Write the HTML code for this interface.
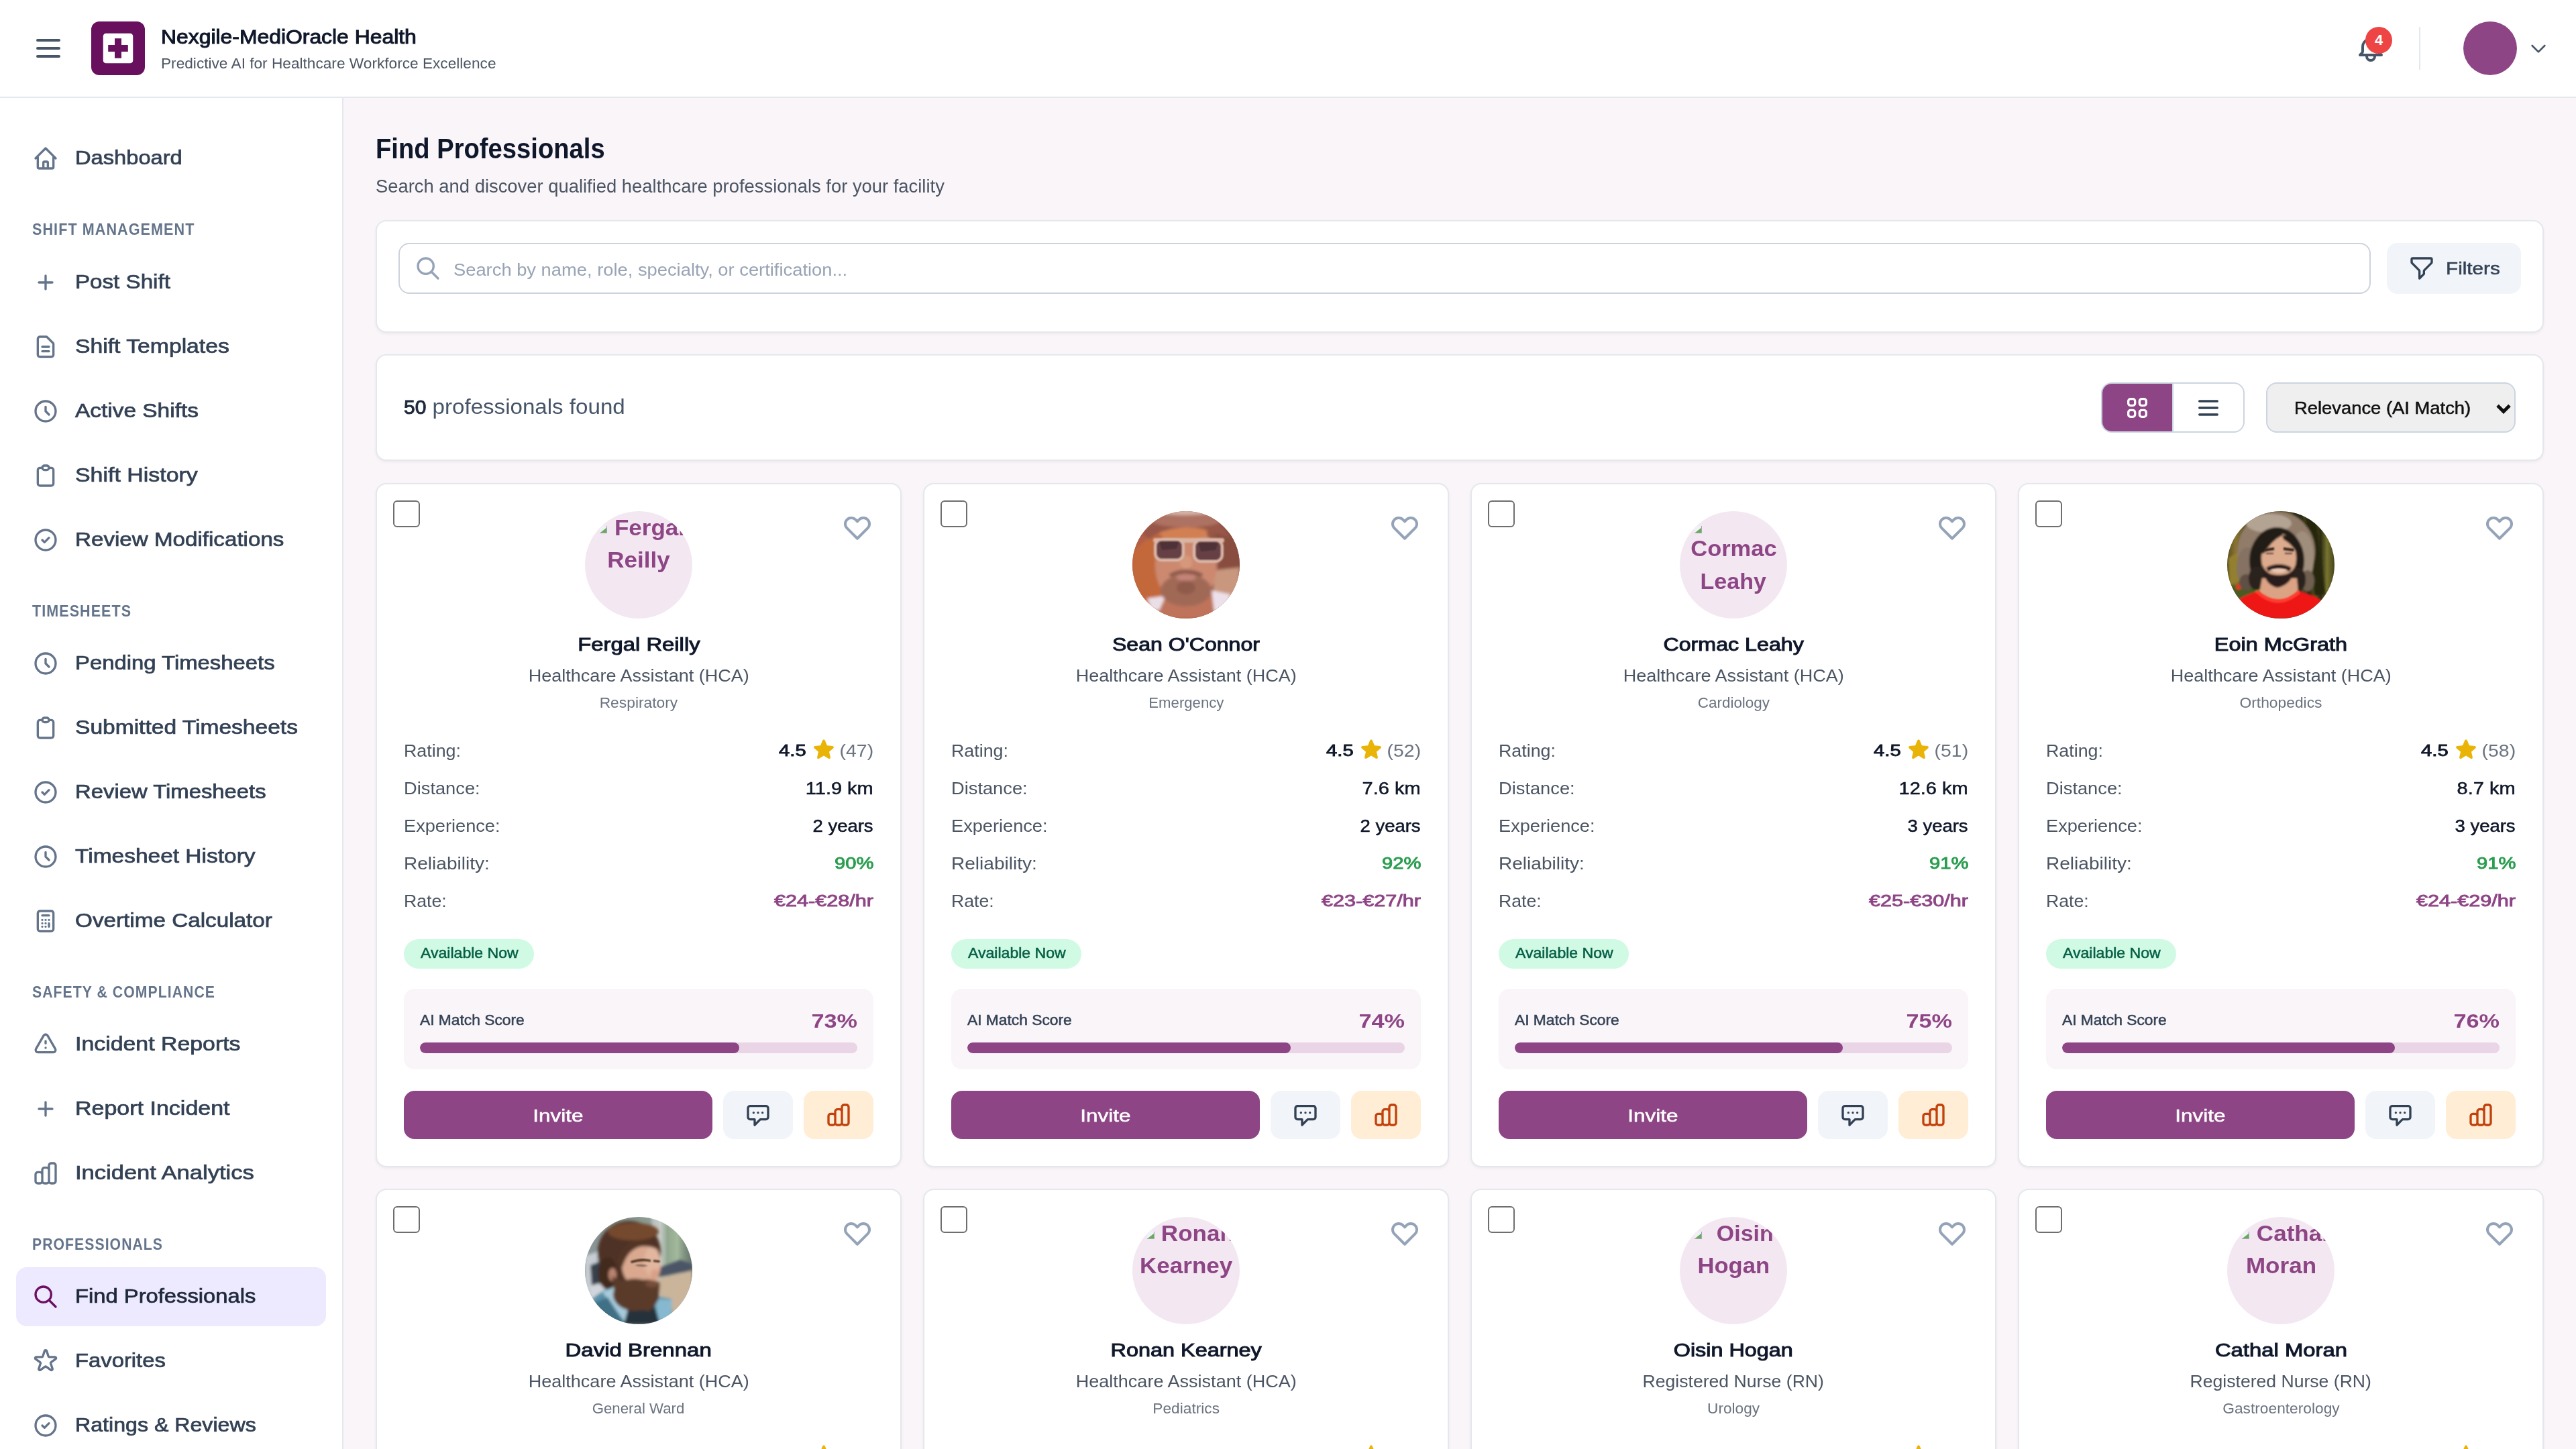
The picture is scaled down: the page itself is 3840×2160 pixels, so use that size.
<!DOCTYPE html>
<html lang="en"><head><meta charset="utf-8"><title>Find Professionals</title>
<style>
*{box-sizing:border-box;margin:0;padding:0}
html,body{width:3840px;height:2160px;overflow:hidden;background:#f9f5f9}
body{font-family:"Liberation Sans",sans-serif;color:#0f172a;-webkit-font-smoothing:antialiased}
#app{position:relative;width:3840px;height:2160px;overflow:hidden;background:#f9f5f9}
svg.ic{display:block;flex:none}
header{position:absolute;left:0;top:0;width:3840px;height:146px;background:#fff;border-bottom:2px solid #e4e7ec}
.logo{position:absolute;left:136px;top:32px;width:80px;height:80px;border-radius:12px;background:#680f5e}
.brand{position:absolute;left:240px;top:33px;font-size:28.6px;line-height:44px;font-weight:400;-webkit-text-stroke:1px currentColor;color:#0f172a;white-space:nowrap}
.tag{position:absolute;left:240px;top:78.7px;font-size:22.3px;line-height:32px;color:#4b5563;white-space:nowrap}
.nb{position:absolute;left:3526px;top:40px;width:40px;height:40px;border-radius:50%;background:#ef4444;color:#fff;font-size:22px;font-weight:700;line-height:40px;text-align:center}
.vdiv{position:absolute;left:3606px;top:40px;width:2px;height:64px;background:#e4e7ec}
.uav{position:absolute;left:3672px;top:32px;width:80px;height:80px;border-radius:50%;background:#8e4585}
aside{position:absolute;left:0;top:146px;width:512px;height:2014px;background:#fff;border-right:2px solid #e4e7ec}
aside .ni{position:absolute;left:24px;width:462px;height:88px;border-radius:16px;display:flex;align-items:center;padding-left:24px;margin-top:-144.5px;font-size:28.8px;color:#334155;white-space:nowrap}
aside .ni .lb{margin-left:24px;-webkit-text-stroke:0.7px currentColor}
aside .ni.act{background:#ede9fe;color:#1e293b}
aside .nh{position:absolute;left:48px;margin-top:-146px;font-size:24px;line-height:32px;font-weight:700;letter-spacing:1.2px;color:#64748b;white-space:nowrap}
h1{position:absolute;left:560px;top:188.5px;font-size:43px;line-height:64px;font-weight:700;color:#0f172a;white-space:nowrap}
.sub{position:absolute;left:560px;top:257.5px;font-size:27.3px;line-height:40px;color:#4b5563;white-space:nowrap}
.panel{position:absolute;background:#fff;border:2px solid #e4e7ec;border-radius:16px;box-shadow:0 2px 4px rgba(0,0,0,.05)}
.inp{position:absolute;left:32px;top:32px;width:2940px;height:76px;border:2px solid #cdd3dc;border-radius:16px;background:#fff}
.inp>span{position:absolute;left:80px;top:17.5px;font-size:26.5px;line-height:40px;color:#98a3b5;white-space:nowrap}
.fbtn{position:absolute;left:2996px;top:32px;width:200px;height:76px;border-radius:16px;background:#f1f5f9;display:flex;align-items:center;padding-left:32px;font-size:25.8px;color:#334155}
.fbtn>span{margin-left:16px;padding-top:1px;-webkit-text-stroke:0.5px currentColor}
.found{position:absolute;left:40px;top:52px;font-size:32px;line-height:48px;color:#475569;white-space:nowrap}
.found b{color:#1e293b;font-weight:400;-webkit-text-stroke:1px currentColor;font-size:29px}
.tog{position:absolute;left:2570px;top:40px;width:214px;height:75px;border:2px solid #cbd5e1;border-radius:16px;overflow:hidden;display:flex;background:#fff}
.tog div{width:104px;height:71px;display:flex;align-items:center;justify-content:center}
.tog .t1{background:#8e4585}
.tog .t2{border-left:2px solid #cbd5e1;width:106px}
.sel{position:absolute;left:2816px;top:40px;width:372px;height:75px;border:2px solid #cbd5e1;border-radius:16px;background:#efefef;font-size:25.9px;color:#111;white-space:nowrap}
.sel>span{position:absolute;left:40px;top:16px;line-height:40px;-webkit-text-stroke:0.5px currentColor}
.sel svg{position:absolute;right:4px;top:29px}
.card{position:absolute;width:784px;height:1020px;background:#fff;border:2px solid #e4e7ec;border-radius:16px;box-shadow:0 2px 4px rgba(0,0,0,.05)}
.cb{position:absolute;left:24px;top:24px;width:40px;height:40px;border:2px solid #6e6e6e;border-radius:6px;background:#fff}
.av{position:absolute;left:310px;top:40px;width:160px;height:160px;border-radius:50%;overflow:hidden}
.av.alt{background:#f3e8f2}
.altbox{position:absolute;left:0;top:1px;width:160px;height:160px;color:#8e4585;font-size:33px;font-weight:700;text-align:center;line-height:48px}
.altbox .broken{position:absolute;left:21.5px;top:21px}
.altbox .a1{position:absolute;left:36px;width:122px;top:0;white-space:nowrap;text-align:center}
.altbox .a1.w{left:0;width:160px;top:30.5px}
.altbox .a2.w{top:79.5px}
.altbox .a2{position:absolute;left:0;width:160px;top:48px;white-space:nowrap;text-align:center}
.nm{position:absolute;left:0;width:780px;top:215px;text-align:center;font-size:26.8px;line-height:48px;font-weight:400;-webkit-text-stroke:0.95px currentColor;color:#0f172a}
.rl{position:absolute;left:0;width:780px;top:265px;text-align:center;font-size:26.5px;line-height:40px;color:#4b5563}
.sp{position:absolute;left:0;width:780px;top:310px;text-align:center;font-size:21.5px;line-height:32px;color:#6b7280}
.row{position:absolute;left:40px;width:700px;height:40px;font-size:26.5px;line-height:40px}
.row .l{position:absolute;left:0;color:#4b5563}
.row .v{position:absolute;right:0;white-space:nowrap;color:#0f172a}
.row .v.m{-webkit-text-stroke:0.5px currentColor;font-size:25.2px}
.row .v.g{color:#2a9d4f;font-weight:400;-webkit-text-stroke:0.9px currentColor;font-size:24.2px}
.row .v.p{color:#8e4585;font-weight:400;-webkit-text-stroke:0.9px currentColor;font-size:24.2px}
.row .v.rt{display:flex;align-items:center}
.row .v.rt b{font-weight:700}
.row .v.rt i{font-style:normal;color:#64748b}
.row .v.rt .st{margin:0 8px 0 8px}
.badge{position:absolute;left:40px;top:678px;height:44px;width:194px;padding:0 0 0 25px;border-radius:22px;background:#d1fae5;color:#065f46;font-size:21.2px;line-height:42px;white-space:nowrap;-webkit-text-stroke:0.5px currentColor}
.ai{position:absolute;left:40px;top:752px;width:700px;height:120px;border-radius:16px;background:#f9f5f9}
.ail{position:absolute;left:24px;top:31px;font-size:21.2px;line-height:32px;color:#334155;-webkit-text-stroke:0.5px currentColor}
.aiv{position:absolute;right:24px;top:24px;font-size:29px;line-height:48px;font-weight:700;color:#8e4585}
.bar{position:absolute;left:24px;top:80px;width:652px;height:16px;border-radius:8px;background:#e9d5e6;overflow:hidden}
.bar div{height:16px;border-radius:8px;background:#8e4585}
.btn{position:absolute;top:904px;height:72px;border-radius:16px;display:flex;align-items:center;justify-content:center}
.btn.inv{left:40px;width:460px;background:#8e4585;color:#fff;font-size:25.8px;padding-top:2px;-webkit-text-stroke:0.5px currentColor}
.btn.msg{left:516px;width:104px;background:#f1f5f9}
.btn.cht{left:636px;width:104px;background:#ffedd5}

.fx{display:inline-block;white-space:nowrap}
.row .v.r1{right:100px;font-weight:400;-webkit-text-stroke:0.9px currentColor;font-size:24.2px}
.row .v.r2{right:0;color:#6b7280}
.row .st{position:absolute;right:56px;top:0px}

</style></head>
<body>
<div id="app">
<main></main>
<header>
<svg class="ic" width="48" height="48" viewBox="0 0 24 24" fill="none" stroke="#475569" stroke-width="2" stroke-linecap="round" stroke-linejoin="round" style="position:absolute;left:48px;top:48px"><path d="M4 6h16M4 12h16M4 18h16"/></svg>
<div class="logo"><svg width="80" height="80" viewBox="0 0 80 80"><path fill="#fff" fill-rule="evenodd" d="M22 17.750h36a4.250 4.250 0 0 1 4.250 4.250v36a4.250 4.250 0 0 1-4.250 4.250h-36a4.250 4.250 0 0 1-4.250-4.250v-36a4.250 4.250 0 0 1 4.250-4.250zM35 25.200v9.800h-9.800v10h9.800v9.800h10v-9.800h9.800v-10h-9.800v-9.800z"/></svg></div>
<div class="brand"><span class="fx" style="transform:scaleX(1.1146);transform-origin:left center">Nexgile-MediOracle Health</span></div>
<div class="tag"><span class="fx" style="transform:scaleX(1.0161);transform-origin:left center">Predictive AI for Healthcare Workforce Excellence</span></div>
<svg class="ic" width="48" height="48" viewBox="0 0 24 24" fill="none" stroke="#475569" stroke-width="2" stroke-linecap="round" stroke-linejoin="round" style="position:absolute;left:3510px;top:48px"><path d="M15 17h5l-1.405-1.405A2.032 2.032 0 0118 14.158V11a6.002 6.002 0 00-4-5.659V5a2 2 0 10-4 0v.341C7.67 6.165 6 8.388 6 11v3.159c0 .538-.214 1.055-.595 1.436L4 17h5m6 0v1a3 3 0 11-6 0v-1m6 0H9"/></svg>
<div class="nb">4</div>
<div class="vdiv"></div>
<div class="uav"></div>
<svg class="ic" width="32" height="32" viewBox="0 0 24 24" fill="none" stroke="#475569" stroke-width="2" stroke-linecap="round" stroke-linejoin="round" style="position:absolute;left:3768px;top:56px"><path d="M19 9l-7 7-7-7"/></svg>
</header>
<aside>
<div class="ni" style="top:190px"><svg class="ic" width="40" height="40" viewBox="0 0 24 24" fill="none" stroke="#64748b" stroke-width="2" stroke-linecap="round" stroke-linejoin="round" style=""><path d="M3 12l2-2m0 0l7-7 7 7M5 10v10a1 1 0 001 1h3m10-11l2 2m-2-2v10a1 1 0 01-1 1h-3m-6 0a1 1 0 001-1v-4a1 1 0 011-1h2a1 1 0 011 1v4a1 1 0 001 1m-6 0h6"/></svg><span class="lb"><span class="fx" style="transform:scaleX(1.1338);transform-origin:left center">Dashboard</span></span></div>
<div class="nh" style="top:326px"><span class="fx" style="transform:scaleX(0.8984);transform-origin:left center">SHIFT MANAGEMENT</span></div>
<div class="ni" style="top:375px"><svg class="ic" width="40" height="40" viewBox="0 0 24 24" fill="none" stroke="#64748b" stroke-width="2" stroke-linecap="round" stroke-linejoin="round" style=""><path d="M12 6v6m0 0v6m0-6h6m-6 0H6"/></svg><span class="lb"><span class="fx" style="transform:scaleX(1.1509);transform-origin:left center">Post Shift</span></span></div>
<div class="ni" style="top:471px"><svg class="ic" width="40" height="40" viewBox="0 0 24 24" fill="none" stroke="#64748b" stroke-width="2" stroke-linecap="round" stroke-linejoin="round" style=""><path d="M9 12h6m-6 4h6m2 5H7a2 2 0 01-2-2V5a2 2 0 012-2h5.586a1 1 0 01.707.293l5.414 5.414a1 1 0 01.293.707V19a2 2 0 01-2 2z"/></svg><span class="lb"><span class="fx" style="transform:scaleX(1.1705);transform-origin:left center">Shift Templates</span></span></div>
<div class="ni" style="top:567px"><svg class="ic" width="40" height="40" viewBox="0 0 24 24" fill="none" stroke="#64748b" stroke-width="2" stroke-linecap="round" stroke-linejoin="round" style=""><path d="M12 8v4l3 3m6-3a9 9 0 11-18 0 9 9 0 0118 0z"/></svg><span class="lb"><span class="fx" style="transform:scaleX(1.1609);transform-origin:left center">Active Shifts</span></span></div>
<div class="ni" style="top:663px"><svg class="ic" width="40" height="40" viewBox="0 0 24 24" fill="none" stroke="#64748b" stroke-width="2" stroke-linecap="round" stroke-linejoin="round" style=""><path d="M9 5H7a2 2 0 00-2 2v12a2 2 0 002 2h10a2 2 0 002-2V7a2 2 0 00-2-2h-2M9 5a2 2 0 002 2h2a2 2 0 002-2M9 5a2 2 0 012-2h2a2 2 0 012 2"/></svg><span class="lb"><span class="fx" style="transform:scaleX(1.1779);transform-origin:left center">Shift History</span></span></div>
<div class="ni" style="top:759px"><svg class="ic" width="40" height="40" viewBox="0 0 24 24" fill="none" stroke="#64748b" stroke-width="2" stroke-linecap="round" stroke-linejoin="round" style=""><path d="M9 12l2 2 4-4m6 2a9 9 0 11-18 0 9 9 0 0118 0z"/></svg><span class="lb"><span class="fx" style="transform:scaleX(1.1514);transform-origin:left center">Review Modifications</span></span></div>
<div class="nh" style="top:895px"><span class="fx" style="transform:scaleX(0.8959);transform-origin:left center">TIMESHEETS</span></div>
<div class="ni" style="top:943px"><svg class="ic" width="40" height="40" viewBox="0 0 24 24" fill="none" stroke="#64748b" stroke-width="2" stroke-linecap="round" stroke-linejoin="round" style=""><path d="M12 8v4l3 3m6-3a9 9 0 11-18 0 9 9 0 0118 0z"/></svg><span class="lb"><span class="fx" style="transform:scaleX(1.1407);transform-origin:left center">Pending Timesheets</span></span></div>
<div class="ni" style="top:1039px"><svg class="ic" width="40" height="40" viewBox="0 0 24 24" fill="none" stroke="#64748b" stroke-width="2" stroke-linecap="round" stroke-linejoin="round" style=""><path d="M9 5H7a2 2 0 00-2 2v12a2 2 0 002 2h10a2 2 0 002-2V7a2 2 0 00-2-2h-2M9 5a2 2 0 002 2h2a2 2 0 002-2M9 5a2 2 0 012-2h2a2 2 0 012 2"/></svg><span class="lb"><span class="fx" style="transform:scaleX(1.1651);transform-origin:left center">Submitted Timesheets</span></span></div>
<div class="ni" style="top:1135px"><svg class="ic" width="40" height="40" viewBox="0 0 24 24" fill="none" stroke="#64748b" stroke-width="2" stroke-linecap="round" stroke-linejoin="round" style=""><path d="M9 12l2 2 4-4m6 2a9 9 0 11-18 0 9 9 0 0118 0z"/></svg><span class="lb"><span class="fx" style="transform:scaleX(1.1401);transform-origin:left center">Review Timesheets</span></span></div>
<div class="ni" style="top:1231px"><svg class="ic" width="40" height="40" viewBox="0 0 24 24" fill="none" stroke="#64748b" stroke-width="2" stroke-linecap="round" stroke-linejoin="round" style=""><path d="M12 8v4l3 3m6-3a9 9 0 11-18 0 9 9 0 0118 0z"/></svg><span class="lb"><span class="fx" style="transform:scaleX(1.1627);transform-origin:left center">Timesheet History</span></span></div>
<div class="ni" style="top:1327px"><svg class="ic" width="40" height="40" viewBox="0 0 24 24" fill="none" stroke="#64748b" stroke-width="2" stroke-linecap="round" stroke-linejoin="round" style=""><path d="M9 7h6m0 10v-3m-3 3h.01M9 17h.01M9 14h.01M12 14h.01M15 11h.01M12 11h.01M9 11h.01M7 21h10a2 2 0 002-2V5a2 2 0 00-2-2H7a2 2 0 00-2 2v14a2 2 0 002 2z"/></svg><span class="lb"><span class="fx" style="transform:scaleX(1.1552);transform-origin:left center">Overtime Calculator</span></span></div>
<div class="nh" style="top:1463px"><span class="fx" style="transform:scaleX(0.8832);transform-origin:left center">SAFETY &amp; COMPLIANCE</span></div>
<div class="ni" style="top:1511px"><svg class="ic" width="40" height="40" viewBox="0 0 24 24" fill="none" stroke="#64748b" stroke-width="2" stroke-linecap="round" stroke-linejoin="round" style=""><path d="M12 9v2m0 4h.01m-6.938 4h13.856c1.54 0 2.502-1.667 1.732-3L13.732 4c-.77-1.333-2.694-1.333-3.464 0L3.34 16c-.77 1.333.192 3 1.732 3z"/></svg><span class="lb"><span class="fx" style="transform:scaleX(1.1757);transform-origin:left center">Incident Reports</span></span></div>
<div class="ni" style="top:1607px"><svg class="ic" width="40" height="40" viewBox="0 0 24 24" fill="none" stroke="#64748b" stroke-width="2" stroke-linecap="round" stroke-linejoin="round" style=""><path d="M12 6v6m0 0v6m0-6h6m-6 0H6"/></svg><span class="lb"><span class="fx" style="transform:scaleX(1.1805);transform-origin:left center">Report Incident</span></span></div>
<div class="ni" style="top:1703px"><svg class="ic" width="40" height="40" viewBox="0 0 24 24" fill="none" stroke="#64748b" stroke-width="2" stroke-linecap="round" stroke-linejoin="round" style=""><path d="M9 19v-6a2 2 0 00-2-2H5a2 2 0 00-2 2v6a2 2 0 002 2h2a2 2 0 002-2zm0 0V9a2 2 0 012-2h2a2 2 0 012 2v10m-6 0a2 2 0 002 2h2a2 2 0 002-2m0 0V5a2 2 0 012-2h2a2 2 0 012 2v14a2 2 0 01-2 2h-2a2 2 0 01-2-2z"/></svg><span class="lb"><span class="fx" style="transform:scaleX(1.1988);transform-origin:left center">Incident Analytics</span></span></div>
<div class="nh" style="top:1839px"><span class="fx" style="transform:scaleX(0.8827);transform-origin:left center">PROFESSIONALS</span></div>
<div class="ni act" style="top:1887px"><svg class="ic" width="40" height="40" viewBox="0 0 24 24" fill="none" stroke="#6b0f62" stroke-width="2" stroke-linecap="round" stroke-linejoin="round" style=""><path d="M21 21l-6-6m2-5a7 7 0 11-14 0 7 7 0 0114 0z"/></svg><span class="lb"><span class="fx" style="transform:scaleX(1.1370);transform-origin:left center">Find Professionals</span></span></div>
<div class="ni" style="top:1983px"><svg class="ic" width="40" height="40" viewBox="0 0 24 24" fill="none" stroke="#64748b" stroke-width="2" stroke-linecap="round" stroke-linejoin="round" style=""><path d="M11.049 2.927c.3-.921 1.603-.921 1.902 0l1.519 4.674a1 1 0 00.95.69h4.915c.969 0 1.371 1.24.588 1.81l-3.976 2.888a1 1 0 00-.363 1.118l1.518 4.674c.3.922-.755 1.688-1.538 1.118l-3.976-2.888a1 1 0 00-1.176 0l-3.976 2.888c-.783.57-1.838-.197-1.538-1.118l1.518-4.674a1 1 0 00-.363-1.118l-3.976-2.888c-.784-.57-.38-1.81.588-1.81h4.914a1 1 0 00.951-.69l1.519-4.674z"/></svg><span class="lb"><span class="fx" style="transform:scaleX(1.1387);transform-origin:left center">Favorites</span></span></div>
<div class="ni" style="top:2079px"><svg class="ic" width="40" height="40" viewBox="0 0 24 24" fill="none" stroke="#64748b" stroke-width="2" stroke-linecap="round" stroke-linejoin="round" style=""><path d="M9 12l2 2 4-4m6 2a9 9 0 11-18 0 9 9 0 0118 0z"/></svg><span class="lb"><span class="fx" style="transform:scaleX(1.1162);transform-origin:left center">Ratings &amp; Reviews</span></span></div>
</aside>
<h1><span class="fx" style="transform:scaleX(0.8881);transform-origin:left center">Find Professionals</span></h1>
<p class="sub"><span class="fx" style="transform:scaleX(1.0032);transform-origin:left center">Search and discover qualified healthcare professionals for your facility</span></p>
<div class="panel" style="left:560px;top:328px;width:3232px;height:168px">
 <div class="inp"><svg class="ic" width="40" height="40" viewBox="0 0 24 24" fill="none" stroke="#94a3b8" stroke-width="2" stroke-linecap="round" stroke-linejoin="round" style="position:absolute;left:22px;top:16px"><path d="M21 21l-6-6m2-5a7 7 0 11-14 0 7 7 0 0114 0z"/></svg><span><span class="fx" style="transform:scaleX(1.0311);transform-origin:left center">Search by name, role, specialty, or certification...</span></span></div>
 <div class="fbtn"><svg class="ic" width="40" height="40" viewBox="0 0 24 24" fill="none" stroke="#334155" stroke-width="2" stroke-linecap="round" stroke-linejoin="round" style=""><path d="M3 4a1 1 0 011-1h16a1 1 0 011 1v2.586a1 1 0 01-.293.707l-6.414 6.414a1 1 0 00-.293.707V17l-4 4v-6.586a1 1 0 00-.293-.707L3.293 7.293A1 1 0 013 6.586V4z"/></svg><span><span class="fx" style="transform:scaleX(1.1503);transform-origin:left center">Filters</span></span></div>
</div>
<div class="panel" style="left:560px;top:528px;width:3232px;height:159px">
 <div class="found"><span class="fx" style="transform:scaleX(1.0347);transform-origin:left center"><b>50</b> professionals found</span></div>
 <div class="tog"><div class="t1"><svg class="ic" width="40" height="40" viewBox="0 0 24 24" fill="none" stroke="#ffffff" stroke-width="2" stroke-linecap="round" stroke-linejoin="round" style=""><path d="M4 6a2 2 0 012-2h2a2 2 0 012 2v2a2 2 0 01-2 2H6a2 2 0 01-2-2V6zM14 6a2 2 0 012-2h2a2 2 0 012 2v2a2 2 0 01-2 2h-2a2 2 0 01-2-2V6zM4 16a2 2 0 012-2h2a2 2 0 012 2v2a2 2 0 01-2 2H6a2 2 0 01-2-2v-2zM14 16a2 2 0 012-2h2a2 2 0 012 2v2a2 2 0 01-2 2h-2a2 2 0 01-2-2v-2z"/></svg></div><div class="t2"><svg class="ic" width="40" height="40" viewBox="0 0 24 24" fill="none" stroke="#334155" stroke-width="2" stroke-linecap="round" stroke-linejoin="round" style=""><path d="M4 6h16M4 12h16M4 18h16"/></svg></div></div>
 <div class="sel"><span><span class="fx" style="transform:scaleX(1.0573);transform-origin:left center">Relevance (AI Match)</span></span><svg width="24" height="16" viewBox="0 0 24 16"><path d="M3 3.500 L12 12.500 L21 3.500" fill="none" stroke="#111" stroke-width="5" stroke-linecap="butt" stroke-linejoin="miter"/></svg></div>
</div>
<div class="card" style="left:560px;top:720px">
<div class="cb"></div>
<svg class="ic" width="48" height="48" viewBox="0 0 24 24" fill="none" stroke="#94a3b8" stroke-width="2" stroke-linecap="round" stroke-linejoin="round" style="position:absolute;right:40px;top:40px"><path d="M4.318 6.318a4.5 4.5 0 000 6.364L12 20.364l7.682-7.682a4.5 4.5 0 00-6.364-6.364L12 7.636l-1.318-1.318a4.5 4.5 0 00-6.364 0z"/></svg>
<div class="av alt"><div class="altbox"><svg class="broken" width="11" height="11" viewBox="0 0 12 12"><rect width="12" height="12" fill="#eef2f7"/><path d="M1 11 L11 11 L11 3 Z" fill="#6aa85a"/><path d="M0 11.400 L11.400 11.400 L11.400 0" fill="none" stroke="#a3a8af" stroke-width="1.200"/></svg><span class="a1"><span class="fx" style="transform:scaleX(1.0620);transform-origin:center center">Fergal</span></span><span class="a2"><span class="fx" style="transform:scaleX(1.0620);transform-origin:center center">Reilly</span></span></div></div>
<div class="nm"><span class="fx" style="transform:scaleX(1.2240);transform-origin:center center">Fergal Reilly</span></div>
<div class="rl"><span class="fx" style="transform:scaleX(1.0208);transform-origin:center center">Healthcare Assistant (HCA)</span></div>
<div class="sp"><span class="fx" style="transform:scaleX(1.0609);transform-origin:center center">Respiratory</span></div>
<div class="row" style="top:377px"><span class="l"><span class="fx" style="transform:scaleX(1.0117);transform-origin:left center">Rating:</span></span><span class="v r1"><span class="fx" style="transform:scaleX(1.2062);transform-origin:right center">4.5</span></span><svg class="st" width="36" height="36" viewBox="0 0 24 24" fill="#eab308"><path d="M10.788 3.21c.448-1.077 1.976-1.077 2.424 0l2.082 5.007 5.404.433c1.164.093 1.636 1.545.749 2.305l-4.117 3.527 1.257 5.273c.271 1.136-.964 2.033-1.96 1.425L12 18.354 7.373 21.18c-.996.608-2.231-.29-1.96-1.425l1.257-5.273-4.117-3.527c-.887-.76-.415-2.212.749-2.305l5.404-.433 2.082-5.007z"/></svg><span class="v r2"><span class="fx" style="transform:scaleX(1.0724);transform-origin:right center">(47)</span></span></div>
<div class="row" style="top:433px"><span class="l"><span class="fx" style="transform:scaleX(1.0288);transform-origin:left center">Distance:</span></span><span class="v m"><span class="fx" style="transform:scaleX(1.1505);transform-origin:right center">11.9 km</span></span></div>
<div class="row" style="top:489px"><span class="l"><span class="fx" style="transform:scaleX(1.0257);transform-origin:left center">Experience:</span></span><span class="v m"><span class="fx" style="transform:scaleX(1.0912);transform-origin:right center">2 years</span></span></div>
<div class="row" style="top:545px"><span class="l"><span class="fx" style="transform:scaleX(1.0587);transform-origin:left center">Reliability:</span></span><span class="v g"><span class="fx" style="transform:scaleX(1.2072);transform-origin:right center">90%</span></span></div>
<div class="row" style="top:601px"><span class="l"><span class="fx" style="transform:scaleX(1.0065);transform-origin:left center">Rate:</span></span><span class="v p"><span class="fx" style="transform:scaleX(1.2654);transform-origin:right center">€24-€28/hr</span></span></div>
<div class="badge"><span class="fx" style="transform:scaleX(1.0883);transform-origin:left center">Available Now</span></div>
<div class="ai"><span class="ail"><span class="fx" style="transform:scaleX(1.0750);transform-origin:left center">AI Match Score</span></span><span class="aiv"><span class="fx" style="transform:scaleX(1.1829);transform-origin:right center">73%</span></span><div class="bar"><div style="width:73%"></div></div></div>
<div class="btn inv"><span class="fx" style="transform:scaleX(1.2192);transform-origin:center center">Invite</span></div>
<div class="btn msg"><svg class="ic" width="40" height="40" viewBox="0 0 24 24" fill="none" stroke="#334155" stroke-width="2" stroke-linecap="round" stroke-linejoin="round" style=""><path d="M8 10h.01M12 10h.01M16 10h.01M9 16H5a2 2 0 01-2-2V6a2 2 0 012-2h14a2 2 0 012 2v8a2 2 0 01-2 2h-5l-5 5v-5z"/></svg></div>
<div class="btn cht"><svg class="ic" width="40" height="40" viewBox="0 0 24 24" fill="none" stroke="#c2410c" stroke-width="2" stroke-linecap="round" stroke-linejoin="round" style=""><path d="M9 19v-6a2 2 0 00-2-2H5a2 2 0 00-2 2v6a2 2 0 002 2h2a2 2 0 002-2zm0 0V9a2 2 0 012-2h2a2 2 0 012 2v10m-6 0a2 2 0 002 2h2a2 2 0 002-2m0 0V5a2 2 0 012-2h2a2 2 0 012 2v14a2 2 0 01-2 2h-2a2 2 0 01-2-2z"/></svg></div>
</div>
<div class="card" style="left:1376px;top:720px">
<div class="cb"></div>
<svg class="ic" width="48" height="48" viewBox="0 0 24 24" fill="none" stroke="#94a3b8" stroke-width="2" stroke-linecap="round" stroke-linejoin="round" style="position:absolute;right:40px;top:40px"><path d="M4.318 6.318a4.5 4.5 0 000 6.364L12 20.364l7.682-7.682a4.5 4.5 0 00-6.364-6.364L12 7.636l-1.318-1.318a4.5 4.5 0 00-6.364 0z"/></svg>
<div class="av ph"><svg width="160" height="160" viewBox="0 0 160 160"><defs><filter id="bs" x="-10%" y="-10%" width="120%" height="120%"><feGaussianBlur stdDeviation="2.2"/></filter><filter id="bs2" x="-10%" y="-10%" width="120%" height="120%"><feGaussianBlur stdDeviation="1.1"/></filter><linearGradient id="sbg" x1="0" x2="1" y1="0" y2="0"><stop offset="0" stop-color="#b4572d"/><stop offset=".3" stop-color="#b85c30"/><stop offset=".75" stop-color="#8a4a38"/><stop offset="1" stop-color="#7b4234"/></linearGradient></defs>
<rect width="160" height="160" fill="url(#sbg)"/>
<g filter="url(#bs)">
<path d="M0 40 L34 36 L44 126 L20 140 L0 150Z" fill="#bd5f2e"/>
<path d="M0 0 L40 0 L24 40 L0 60Z" fill="#a9553a"/>
<path d="M124 30 L160 30 L160 92 L128 88Z" fill="#7a4033"/>
<path d="M122 88 L160 84 L160 136 L120 130Z" fill="#c4947a"/>
<path d="M36 128 L118 122 L130 160 L30 160Z" fill="#b96c52"/>
<path d="M22 130 L50 126 L40 148 L28 146Z" fill="#ebe6f2"/>
<path d="M118 118 L146 124 L140 146 L122 150Z" fill="#ece9f5"/>
<ellipse cx="80" cy="80" rx="46" ry="60" fill="#c8856a"/>
<ellipse cx="76" cy="32" rx="36" ry="12" fill="#cf7a48"/>
<ellipse cx="80" cy="118" rx="38" ry="24" fill="#96604e"/>
<ellipse cx="80" cy="114" rx="14" ry="10" fill="#83503f"/>
<ellipse cx="80" cy="99" rx="15" ry="4.500" fill="#c07f74"/>
<path d="M54 94 Q80 80 106 94 L102 98 Q80 88 58 98Z" fill="#7b4a3c"/>
<ellipse cx="80" cy="76" rx="9" ry="10" fill="#d39679"/>
<path d="M14 34 Q30 8 80 4 Q130 6 146 40 L128 34 Q80 14 36 34 L26 42Z" fill="#8c4c3e"/>
<ellipse cx="80" cy="10" rx="58" ry="14" fill="#a66b5c"/>
<ellipse cx="78" cy="1" rx="40" ry="5" fill="#d2b2a8"/>
</g>
<g filter="url(#bs2)">
<rect x="31" y="40" width="106" height="7" rx="3" fill="#d6b6a6"/>
<rect x="34" y="42" width="42" height="31" rx="10" fill="#55313a" stroke="#d9baaa" stroke-width="4"/>
<rect x="92" y="43" width="42" height="32" rx="10" fill="#55313a" stroke="#d9baaa" stroke-width="4"/>
<path d="M40 46 L70 45 L66 56 L44 58Z" fill="#38212a"/>
<path d="M98 47 L128 47 L124 58 L102 60Z" fill="#38212a"/>
</g>
<rect width="160" height="160" fill="#f0b0a0" opacity=".12"/>
</svg>
</div>
<div class="nm"><span class="fx" style="transform:scaleX(1.1962);transform-origin:center center">Sean O'Connor</span></div>
<div class="rl"><span class="fx" style="transform:scaleX(1.0208);transform-origin:center center">Healthcare Assistant (HCA)</span></div>
<div class="sp"><span class="fx" style="transform:scaleX(1.0311);transform-origin:center center">Emergency</span></div>
<div class="row" style="top:377px"><span class="l"><span class="fx" style="transform:scaleX(1.0117);transform-origin:left center">Rating:</span></span><span class="v r1"><span class="fx" style="transform:scaleX(1.2062);transform-origin:right center">4.5</span></span><svg class="st" width="36" height="36" viewBox="0 0 24 24" fill="#eab308"><path d="M10.788 3.21c.448-1.077 1.976-1.077 2.424 0l2.082 5.007 5.404.433c1.164.093 1.636 1.545.749 2.305l-4.117 3.527 1.257 5.273c.271 1.136-.964 2.033-1.96 1.425L12 18.354 7.373 21.18c-.996.608-2.231-.29-1.96-1.425l1.257-5.273-4.117-3.527c-.887-.76-.415-2.212.749-2.305l5.404-.433 2.082-5.007z"/></svg><span class="v r2"><span class="fx" style="transform:scaleX(1.0724);transform-origin:right center">(52)</span></span></div>
<div class="row" style="top:433px"><span class="l"><span class="fx" style="transform:scaleX(1.0288);transform-origin:left center">Distance:</span></span><span class="v m"><span class="fx" style="transform:scaleX(1.1505);transform-origin:right center">7.6 km</span></span></div>
<div class="row" style="top:489px"><span class="l"><span class="fx" style="transform:scaleX(1.0257);transform-origin:left center">Experience:</span></span><span class="v m"><span class="fx" style="transform:scaleX(1.0912);transform-origin:right center">2 years</span></span></div>
<div class="row" style="top:545px"><span class="l"><span class="fx" style="transform:scaleX(1.0587);transform-origin:left center">Reliability:</span></span><span class="v g"><span class="fx" style="transform:scaleX(1.2072);transform-origin:right center">92%</span></span></div>
<div class="row" style="top:601px"><span class="l"><span class="fx" style="transform:scaleX(1.0065);transform-origin:left center">Rate:</span></span><span class="v p"><span class="fx" style="transform:scaleX(1.2654);transform-origin:right center">€23-€27/hr</span></span></div>
<div class="badge"><span class="fx" style="transform:scaleX(1.0883);transform-origin:left center">Available Now</span></div>
<div class="ai"><span class="ail"><span class="fx" style="transform:scaleX(1.0750);transform-origin:left center">AI Match Score</span></span><span class="aiv"><span class="fx" style="transform:scaleX(1.1829);transform-origin:right center">74%</span></span><div class="bar"><div style="width:74%"></div></div></div>
<div class="btn inv"><span class="fx" style="transform:scaleX(1.2192);transform-origin:center center">Invite</span></div>
<div class="btn msg"><svg class="ic" width="40" height="40" viewBox="0 0 24 24" fill="none" stroke="#334155" stroke-width="2" stroke-linecap="round" stroke-linejoin="round" style=""><path d="M8 10h.01M12 10h.01M16 10h.01M9 16H5a2 2 0 01-2-2V6a2 2 0 012-2h14a2 2 0 012 2v8a2 2 0 01-2 2h-5l-5 5v-5z"/></svg></div>
<div class="btn cht"><svg class="ic" width="40" height="40" viewBox="0 0 24 24" fill="none" stroke="#c2410c" stroke-width="2" stroke-linecap="round" stroke-linejoin="round" style=""><path d="M9 19v-6a2 2 0 00-2-2H5a2 2 0 00-2 2v6a2 2 0 002 2h2a2 2 0 002-2zm0 0V9a2 2 0 012-2h2a2 2 0 012 2v10m-6 0a2 2 0 002 2h2a2 2 0 002-2m0 0V5a2 2 0 012-2h2a2 2 0 012 2v14a2 2 0 01-2 2h-2a2 2 0 01-2-2z"/></svg></div>
</div>
<div class="card" style="left:2192px;top:720px">
<div class="cb"></div>
<svg class="ic" width="48" height="48" viewBox="0 0 24 24" fill="none" stroke="#94a3b8" stroke-width="2" stroke-linecap="round" stroke-linejoin="round" style="position:absolute;right:40px;top:40px"><path d="M4.318 6.318a4.5 4.5 0 000 6.364L12 20.364l7.682-7.682a4.5 4.5 0 00-6.364-6.364L12 7.636l-1.318-1.318a4.5 4.5 0 00-6.364 0z"/></svg>
<div class="av alt"><div class="altbox"><svg class="broken" width="11" height="11" viewBox="0 0 12 12"><rect width="12" height="12" fill="#eef2f7"/><path d="M1 11 L11 11 L11 3 Z" fill="#6aa85a"/><path d="M0 11.400 L11.400 11.400 L11.400 0" fill="none" stroke="#a3a8af" stroke-width="1.200"/></svg><span class="a1 w"><span class="fx" style="transform:scaleX(1.0449);transform-origin:center center">Cormac</span></span><span class="a2 w"><span class="fx" style="transform:scaleX(1.0307);transform-origin:center center">Leahy</span></span></div></div>
<div class="nm"><span class="fx" style="transform:scaleX(1.2015);transform-origin:center center">Cormac Leahy</span></div>
<div class="rl"><span class="fx" style="transform:scaleX(1.0208);transform-origin:center center">Healthcare Assistant (HCA)</span></div>
<div class="sp"><span class="fx" style="transform:scaleX(1.0452);transform-origin:center center">Cardiology</span></div>
<div class="row" style="top:377px"><span class="l"><span class="fx" style="transform:scaleX(1.0117);transform-origin:left center">Rating:</span></span><span class="v r1"><span class="fx" style="transform:scaleX(1.2062);transform-origin:right center">4.5</span></span><svg class="st" width="36" height="36" viewBox="0 0 24 24" fill="#eab308"><path d="M10.788 3.21c.448-1.077 1.976-1.077 2.424 0l2.082 5.007 5.404.433c1.164.093 1.636 1.545.749 2.305l-4.117 3.527 1.257 5.273c.271 1.136-.964 2.033-1.96 1.425L12 18.354 7.373 21.18c-.996.608-2.231-.29-1.96-1.425l1.257-5.273-4.117-3.527c-.887-.76-.415-2.212.749-2.305l5.404-.433 2.082-5.007z"/></svg><span class="v r2"><span class="fx" style="transform:scaleX(1.0724);transform-origin:right center">(51)</span></span></div>
<div class="row" style="top:433px"><span class="l"><span class="fx" style="transform:scaleX(1.0288);transform-origin:left center">Distance:</span></span><span class="v m"><span class="fx" style="transform:scaleX(1.1505);transform-origin:right center">12.6 km</span></span></div>
<div class="row" style="top:489px"><span class="l"><span class="fx" style="transform:scaleX(1.0257);transform-origin:left center">Experience:</span></span><span class="v m"><span class="fx" style="transform:scaleX(1.0912);transform-origin:right center">3 years</span></span></div>
<div class="row" style="top:545px"><span class="l"><span class="fx" style="transform:scaleX(1.0587);transform-origin:left center">Reliability:</span></span><span class="v g"><span class="fx" style="transform:scaleX(1.2072);transform-origin:right center">91%</span></span></div>
<div class="row" style="top:601px"><span class="l"><span class="fx" style="transform:scaleX(1.0065);transform-origin:left center">Rate:</span></span><span class="v p"><span class="fx" style="transform:scaleX(1.2654);transform-origin:right center">€25-€30/hr</span></span></div>
<div class="badge"><span class="fx" style="transform:scaleX(1.0883);transform-origin:left center">Available Now</span></div>
<div class="ai"><span class="ail"><span class="fx" style="transform:scaleX(1.0750);transform-origin:left center">AI Match Score</span></span><span class="aiv"><span class="fx" style="transform:scaleX(1.1829);transform-origin:right center">75%</span></span><div class="bar"><div style="width:75%"></div></div></div>
<div class="btn inv"><span class="fx" style="transform:scaleX(1.2192);transform-origin:center center">Invite</span></div>
<div class="btn msg"><svg class="ic" width="40" height="40" viewBox="0 0 24 24" fill="none" stroke="#334155" stroke-width="2" stroke-linecap="round" stroke-linejoin="round" style=""><path d="M8 10h.01M12 10h.01M16 10h.01M9 16H5a2 2 0 01-2-2V6a2 2 0 012-2h14a2 2 0 012 2v8a2 2 0 01-2 2h-5l-5 5v-5z"/></svg></div>
<div class="btn cht"><svg class="ic" width="40" height="40" viewBox="0 0 24 24" fill="none" stroke="#c2410c" stroke-width="2" stroke-linecap="round" stroke-linejoin="round" style=""><path d="M9 19v-6a2 2 0 00-2-2H5a2 2 0 00-2 2v6a2 2 0 002 2h2a2 2 0 002-2zm0 0V9a2 2 0 012-2h2a2 2 0 012 2v10m-6 0a2 2 0 002 2h2a2 2 0 002-2m0 0V5a2 2 0 012-2h2a2 2 0 012 2v14a2 2 0 01-2 2h-2a2 2 0 01-2-2z"/></svg></div>
</div>
<div class="card" style="left:3008px;top:720px">
<div class="cb"></div>
<svg class="ic" width="48" height="48" viewBox="0 0 24 24" fill="none" stroke="#94a3b8" stroke-width="2" stroke-linecap="round" stroke-linejoin="round" style="position:absolute;right:40px;top:40px"><path d="M4.318 6.318a4.5 4.5 0 000 6.364L12 20.364l7.682-7.682a4.5 4.5 0 00-6.364-6.364L12 7.636l-1.318-1.318a4.5 4.5 0 00-6.364 0z"/></svg>
<div class="av ph"><svg width="160" height="160" viewBox="0 0 160 160"><defs><filter id="be" x="-10%" y="-10%" width="120%" height="120%"><feGaussianBlur stdDeviation="1.8"/></filter><filter id="be2" x="-10%" y="-10%" width="120%" height="120%"><feGaussianBlur stdDeviation="0.9"/></filter><linearGradient id="ebg" x1="0" x2="1" y1="0" y2="0"><stop offset="0" stop-color="#5a4e22"/><stop offset=".08" stop-color="#8a7430"/><stop offset=".16" stop-color="#5e5424"/><stop offset=".24" stop-color="#7d6e2c"/><stop offset=".32" stop-color="#4e4a20"/><stop offset=".7" stop-color="#4e4a22"/><stop offset=".76" stop-color="#23230f"/><stop offset=".82" stop-color="#5c5a26"/><stop offset=".87" stop-color="#2a2a12"/><stop offset=".93" stop-color="#77742f"/><stop offset="1" stop-color="#45441c"/></linearGradient></defs>
<rect width="160" height="160" fill="url(#ebg)"/>
<g filter="url(#be)">
<path d="M2 70 L24 56 L30 100 L4 110Z" fill="#93802f"/>
<path d="M38 94 L62 90 L60 122 L36 124Z" fill="#a3a231"/>
<path d="M0 112 L40 106 L44 130 L0 136Z" fill="#4a5a20"/>
<circle cx="17" cy="113" r="4" fill="#e8351a"/>
<path d="M118 0 L132 0 L146 124 L130 126Z" fill="#26260f"/>
<path d="M96 0 L112 0 L118 30 L104 30Z" fill="#2b2a14"/>
<ellipse cx="73" cy="60" rx="58" ry="60" fill="#917c69"/>
<ellipse cx="62" cy="18" rx="34" ry="14" fill="#b3a392"/>
<ellipse cx="112" cy="70" rx="17" ry="40" fill="#a08e7c"/>
<ellipse cx="30" cy="84" rx="16" ry="30" fill="#857262"/>
<ellipse cx="120" cy="104" rx="10" ry="16" fill="#6f5e50"/>
<ellipse cx="28" cy="106" rx="10" ry="12" fill="#5f4f44"/>
<ellipse cx="74" cy="74" rx="41" ry="50" fill="#231a18"/>
<ellipse cx="44" cy="100" rx="12" ry="18" fill="#2b201c"/>
<ellipse cx="106" cy="102" rx="11" ry="18" fill="#2b201c"/>
<path d="M16 132 Q46 114 76 118 Q108 114 140 132 L160 160 L0 160Z" fill="#ef1515"/>
<path d="M52 100 L104 100 L106 122 Q78 142 48 122Z" fill="#dba384"/>
<ellipse cx="77" cy="70" rx="26" ry="37" fill="#dcaa8c"/>
<path d="M50 64 Q54 32 78 30 Q84 30 82 36 Q66 44 56 62Z" fill="#231a18"/>
<path d="M82 36 Q100 34 106 66 Q98 50 84 42Z" fill="#231a18"/>
<path d="M53 80 Q54 110 75 114 Q98 110 102 80 Q96 96 77 95 Q58 96 53 80Z" fill="#2a1e1c"/>
<path d="M58 84 Q77 74 96 84 L93 90 Q77 82 61 90Z" fill="#2a1e1c"/>
</g>
<g filter="url(#be2)">
<path d="M64 87 Q77 84 90 87 Q78 96 64 87Z" fill="#e6c6b6"/>
<path d="M55 56 L70 54 L70 58 L56 60Z" fill="#33241f"/>
<path d="M84 54 L100 56 L99 60 L84 58Z" fill="#33241f"/>
<path d="M58 62 L69 62 L69 64 L58 64Z" fill="#6b4a3c"/>
<path d="M86 62 L97 62 L97 64 L86 64Z" fill="#6b4a3c"/>
<path d="M46 118 Q76 146 106 118 L109 122 Q76 152 43 122Z" fill="#ff3b2f"/>
</g>
</svg>
</div>
<div class="nm"><span class="fx" style="transform:scaleX(1.2103);transform-origin:center center">Eoin McGrath</span></div>
<div class="rl"><span class="fx" style="transform:scaleX(1.0208);transform-origin:center center">Healthcare Assistant (HCA)</span></div>
<div class="sp"><span class="fx" style="transform:scaleX(1.0609);transform-origin:center center">Orthopedics</span></div>
<div class="row" style="top:377px"><span class="l"><span class="fx" style="transform:scaleX(1.0117);transform-origin:left center">Rating:</span></span><span class="v r1"><span class="fx" style="transform:scaleX(1.2062);transform-origin:right center">4.5</span></span><svg class="st" width="36" height="36" viewBox="0 0 24 24" fill="#eab308"><path d="M10.788 3.21c.448-1.077 1.976-1.077 2.424 0l2.082 5.007 5.404.433c1.164.093 1.636 1.545.749 2.305l-4.117 3.527 1.257 5.273c.271 1.136-.964 2.033-1.96 1.425L12 18.354 7.373 21.18c-.996.608-2.231-.29-1.96-1.425l1.257-5.273-4.117-3.527c-.887-.76-.415-2.212.749-2.305l5.404-.433 2.082-5.007z"/></svg><span class="v r2"><span class="fx" style="transform:scaleX(1.0724);transform-origin:right center">(58)</span></span></div>
<div class="row" style="top:433px"><span class="l"><span class="fx" style="transform:scaleX(1.0288);transform-origin:left center">Distance:</span></span><span class="v m"><span class="fx" style="transform:scaleX(1.1505);transform-origin:right center">8.7 km</span></span></div>
<div class="row" style="top:489px"><span class="l"><span class="fx" style="transform:scaleX(1.0257);transform-origin:left center">Experience:</span></span><span class="v m"><span class="fx" style="transform:scaleX(1.0912);transform-origin:right center">3 years</span></span></div>
<div class="row" style="top:545px"><span class="l"><span class="fx" style="transform:scaleX(1.0587);transform-origin:left center">Reliability:</span></span><span class="v g"><span class="fx" style="transform:scaleX(1.2072);transform-origin:right center">91%</span></span></div>
<div class="row" style="top:601px"><span class="l"><span class="fx" style="transform:scaleX(1.0065);transform-origin:left center">Rate:</span></span><span class="v p"><span class="fx" style="transform:scaleX(1.2654);transform-origin:right center">€24-€29/hr</span></span></div>
<div class="badge"><span class="fx" style="transform:scaleX(1.0883);transform-origin:left center">Available Now</span></div>
<div class="ai"><span class="ail"><span class="fx" style="transform:scaleX(1.0750);transform-origin:left center">AI Match Score</span></span><span class="aiv"><span class="fx" style="transform:scaleX(1.1829);transform-origin:right center">76%</span></span><div class="bar"><div style="width:76%"></div></div></div>
<div class="btn inv"><span class="fx" style="transform:scaleX(1.2192);transform-origin:center center">Invite</span></div>
<div class="btn msg"><svg class="ic" width="40" height="40" viewBox="0 0 24 24" fill="none" stroke="#334155" stroke-width="2" stroke-linecap="round" stroke-linejoin="round" style=""><path d="M8 10h.01M12 10h.01M16 10h.01M9 16H5a2 2 0 01-2-2V6a2 2 0 012-2h14a2 2 0 012 2v8a2 2 0 01-2 2h-5l-5 5v-5z"/></svg></div>
<div class="btn cht"><svg class="ic" width="40" height="40" viewBox="0 0 24 24" fill="none" stroke="#c2410c" stroke-width="2" stroke-linecap="round" stroke-linejoin="round" style=""><path d="M9 19v-6a2 2 0 00-2-2H5a2 2 0 00-2 2v6a2 2 0 002 2h2a2 2 0 002-2zm0 0V9a2 2 0 012-2h2a2 2 0 012 2v10m-6 0a2 2 0 002 2h2a2 2 0 002-2m0 0V5a2 2 0 012-2h2a2 2 0 012 2v14a2 2 0 01-2 2h-2a2 2 0 01-2-2z"/></svg></div>
</div>
<div class="card" style="left:560px;top:1772px">
<div class="cb"></div>
<svg class="ic" width="48" height="48" viewBox="0 0 24 24" fill="none" stroke="#94a3b8" stroke-width="2" stroke-linecap="round" stroke-linejoin="round" style="position:absolute;right:40px;top:40px"><path d="M4.318 6.318a4.5 4.5 0 000 6.364L12 20.364l7.682-7.682a4.5 4.5 0 00-6.364-6.364L12 7.636l-1.318-1.318a4.5 4.5 0 00-6.364 0z"/></svg>
<div class="av ph"><svg width="160" height="160" viewBox="0 0 160 160"><defs><filter id="bd" x="-10%" y="-10%" width="120%" height="120%"><feGaussianBlur stdDeviation="2"/></filter><filter id="bd2" x="-10%" y="-10%" width="120%" height="120%"><feGaussianBlur stdDeviation="1"/></filter><linearGradient id="dbg" x1="0" x2="1" y1="0" y2="0"><stop offset="0" stop-color="#8d979a"/><stop offset=".3" stop-color="#7f8e88"/><stop offset=".6" stop-color="#8d9d93"/><stop offset=".64" stop-color="#b9c1bd"/><stop offset=".7" stop-color="#c6cdc9"/><stop offset=".77" stop-color="#92a78f"/><stop offset=".86" stop-color="#a3b99c"/><stop offset=".93" stop-color="#7e917f"/><stop offset="1" stop-color="#65746e"/></linearGradient></defs>
<rect width="160" height="160" fill="url(#dbg)"/>
<g filter="url(#bd)">
<path d="M0 58 L18 52 L22 124 L0 130Z" fill="#c8cdd4"/>
<path d="M8 72 L24 66 L24 98 L10 102Z" fill="#37414c"/>
<path d="M8 104 L40 96 L40 120 L10 128Z" fill="#d2d6dc"/>
<path d="M110 76 L142 64 L160 70 L160 80 L110 90Z" fill="#4c5466"/>
<path d="M108 92 L160 80 L160 152 L118 152Z" fill="#cab59b"/>
<path d="M10 122 L36 104 L70 112 L128 122 L132 160 L30 160Z" fill="#5990a8"/>
<path d="M26 112 L44 104 L84 160 L62 160Z" fill="#a7cbdc"/>
<path d="M40 116 L52 110 L92 160 L82 160Z" fill="#c9b2ae"/>
<path d="M104 122 L130 124 L128 150 L110 156Z" fill="#86b9d0"/>
<path d="M64 138 L104 134 L112 160 L58 160Z" fill="#28313b"/>
<path d="M14 128 L34 120 L60 160 L30 160Z" fill="#3f6f86"/>
<ellipse cx="66" cy="52" rx="47" ry="46" fill="#4f3325"/>
<ellipse cx="72" cy="22" rx="38" ry="13" fill="#74492f"/>
<ellipse cx="34" cy="84" rx="14" ry="24" fill="#422a1f"/>
<ellipse cx="84" cy="72" rx="29" ry="34" fill="#d9a88f"/>
<ellipse cx="100" cy="66" rx="12" ry="22" fill="#e2b69f"/>
<path d="M48 70 Q52 40 76 36 Q100 32 114 52 Q100 42 84 44 Q64 48 56 74Z" fill="#533526"/>
<ellipse cx="41" cy="86" rx="6" ry="10" fill="#b98570"/>
<path d="M40 88 Q52 98 70 96 Q96 90 112 98 L110 122 Q100 142 92 140 Q60 136 44 112Z" fill="#5a3a29"/>
<ellipse cx="74" cy="116" rx="32" ry="24" fill="#5a3a29"/>
<ellipse cx="100" cy="100" rx="10" ry="5" fill="#77503a"/>
<ellipse cx="104" cy="86" rx="6" ry="8" fill="#d9a088"/>
</g>
<g filter="url(#bd2)">
<path d="M68 66 Q84 60 98 64 L98 67 Q84 64 69 69Z" fill="#4a3024"/>
<path d="M102 64 L112 65 L111 68 L102 67Z" fill="#4a3024"/>
<path d="M74 72 Q84 69 94 73 Q84 76 74 72Z" fill="#8a6a5c"/>
</g>
</svg>
</div>
<div class="nm"><span class="fx" style="transform:scaleX(1.2313);transform-origin:center center">David Brennan</span></div>
<div class="rl"><span class="fx" style="transform:scaleX(1.0208);transform-origin:center center">Healthcare Assistant (HCA)</span></div>
<div class="sp"><span class="fx" style="transform:scaleX(1.0346);transform-origin:center center">General Ward</span></div>
<div class="row" style="top:377px"><span class="l"><span class="fx" style="transform:scaleX(1.0117);transform-origin:left center">Rating:</span></span><span class="v r1"><span class="fx" style="transform:scaleX(1.2062);transform-origin:right center">4.5</span></span><svg class="st" width="36" height="36" viewBox="0 0 24 24" fill="#eab308"><path d="M10.788 3.21c.448-1.077 1.976-1.077 2.424 0l2.082 5.007 5.404.433c1.164.093 1.636 1.545.749 2.305l-4.117 3.527 1.257 5.273c.271 1.136-.964 2.033-1.96 1.425L12 18.354 7.373 21.18c-.996.608-2.231-.29-1.96-1.425l1.257-5.273-4.117-3.527c-.887-.76-.415-2.212.749-2.305l5.404-.433 2.082-5.007z"/></svg><span class="v r2"><span class="fx" style="transform:scaleX(1.0724);transform-origin:right center">(50)</span></span></div>
<div class="row" style="top:433px"><span class="l"><span class="fx" style="transform:scaleX(1.0288);transform-origin:left center">Distance:</span></span><span class="v m"><span class="fx" style="transform:scaleX(1.1505);transform-origin:right center">9.1 km</span></span></div>
<div class="row" style="top:489px"><span class="l"><span class="fx" style="transform:scaleX(1.0257);transform-origin:left center">Experience:</span></span><span class="v m"><span class="fx" style="transform:scaleX(1.0912);transform-origin:right center">3 years</span></span></div>
<div class="row" style="top:545px"><span class="l"><span class="fx" style="transform:scaleX(1.0587);transform-origin:left center">Reliability:</span></span><span class="v g"><span class="fx" style="transform:scaleX(1.2072);transform-origin:right center">92%</span></span></div>
<div class="row" style="top:601px"><span class="l"><span class="fx" style="transform:scaleX(1.0065);transform-origin:left center">Rate:</span></span><span class="v p"><span class="fx" style="transform:scaleX(1.2654);transform-origin:right center">€24-€29/hr</span></span></div>
<div class="badge"><span class="fx" style="transform:scaleX(1.0883);transform-origin:left center">Available Now</span></div>
<div class="ai"><span class="ail"><span class="fx" style="transform:scaleX(1.0750);transform-origin:left center">AI Match Score</span></span><span class="aiv"><span class="fx" style="transform:scaleX(1.1829);transform-origin:right center">77%</span></span><div class="bar"><div style="width:77%"></div></div></div>
<div class="btn inv"><span class="fx" style="transform:scaleX(1.2192);transform-origin:center center">Invite</span></div>
<div class="btn msg"><svg class="ic" width="40" height="40" viewBox="0 0 24 24" fill="none" stroke="#334155" stroke-width="2" stroke-linecap="round" stroke-linejoin="round" style=""><path d="M8 10h.01M12 10h.01M16 10h.01M9 16H5a2 2 0 01-2-2V6a2 2 0 012-2h14a2 2 0 012 2v8a2 2 0 01-2 2h-5l-5 5v-5z"/></svg></div>
<div class="btn cht"><svg class="ic" width="40" height="40" viewBox="0 0 24 24" fill="none" stroke="#c2410c" stroke-width="2" stroke-linecap="round" stroke-linejoin="round" style=""><path d="M9 19v-6a2 2 0 00-2-2H5a2 2 0 00-2 2v6a2 2 0 002 2h2a2 2 0 002-2zm0 0V9a2 2 0 012-2h2a2 2 0 012 2v10m-6 0a2 2 0 002 2h2a2 2 0 002-2m0 0V5a2 2 0 012-2h2a2 2 0 012 2v14a2 2 0 01-2 2h-2a2 2 0 01-2-2z"/></svg></div>
</div>
<div class="card" style="left:1376px;top:1772px">
<div class="cb"></div>
<svg class="ic" width="48" height="48" viewBox="0 0 24 24" fill="none" stroke="#94a3b8" stroke-width="2" stroke-linecap="round" stroke-linejoin="round" style="position:absolute;right:40px;top:40px"><path d="M4.318 6.318a4.5 4.5 0 000 6.364L12 20.364l7.682-7.682a4.5 4.5 0 00-6.364-6.364L12 7.636l-1.318-1.318a4.5 4.5 0 00-6.364 0z"/></svg>
<div class="av alt"><div class="altbox"><svg class="broken" width="11" height="11" viewBox="0 0 12 12"><rect width="12" height="12" fill="#eef2f7"/><path d="M1 11 L11 11 L11 3 Z" fill="#6aa85a"/><path d="M0 11.400 L11.400 11.400 L11.400 0" fill="none" stroke="#a3a8af" stroke-width="1.200"/></svg><span class="a1"><span class="fx" style="transform:scaleX(1.0620);transform-origin:center center">Ronan</span></span><span class="a2"><span class="fx" style="transform:scaleX(1.0620);transform-origin:center center">Kearney</span></span></div></div>
<div class="nm"><span class="fx" style="transform:scaleX(1.2097);transform-origin:center center">Ronan Kearney</span></div>
<div class="rl"><span class="fx" style="transform:scaleX(1.0208);transform-origin:center center">Healthcare Assistant (HCA)</span></div>
<div class="sp"><span class="fx" style="transform:scaleX(1.0564);transform-origin:center center">Pediatrics</span></div>
<div class="row" style="top:377px"><span class="l"><span class="fx" style="transform:scaleX(1.0117);transform-origin:left center">Rating:</span></span><span class="v r1"><span class="fx" style="transform:scaleX(1.2062);transform-origin:right center">4.5</span></span><svg class="st" width="36" height="36" viewBox="0 0 24 24" fill="#eab308"><path d="M10.788 3.21c.448-1.077 1.976-1.077 2.424 0l2.082 5.007 5.404.433c1.164.093 1.636 1.545.749 2.305l-4.117 3.527 1.257 5.273c.271 1.136-.964 2.033-1.96 1.425L12 18.354 7.373 21.18c-.996.608-2.231-.29-1.96-1.425l1.257-5.273-4.117-3.527c-.887-.76-.415-2.212.749-2.305l5.404-.433 2.082-5.007z"/></svg><span class="v r2"><span class="fx" style="transform:scaleX(1.0724);transform-origin:right center">(49)</span></span></div>
<div class="row" style="top:433px"><span class="l"><span class="fx" style="transform:scaleX(1.0288);transform-origin:left center">Distance:</span></span><span class="v m"><span class="fx" style="transform:scaleX(1.1505);transform-origin:right center">10.2 km</span></span></div>
<div class="row" style="top:489px"><span class="l"><span class="fx" style="transform:scaleX(1.0257);transform-origin:left center">Experience:</span></span><span class="v m"><span class="fx" style="transform:scaleX(1.0912);transform-origin:right center">4 years</span></span></div>
<div class="row" style="top:545px"><span class="l"><span class="fx" style="transform:scaleX(1.0587);transform-origin:left center">Reliability:</span></span><span class="v g"><span class="fx" style="transform:scaleX(1.2072);transform-origin:right center">93%</span></span></div>
<div class="row" style="top:601px"><span class="l"><span class="fx" style="transform:scaleX(1.0065);transform-origin:left center">Rate:</span></span><span class="v p"><span class="fx" style="transform:scaleX(1.2654);transform-origin:right center">€25-€30/hr</span></span></div>
<div class="badge"><span class="fx" style="transform:scaleX(1.0883);transform-origin:left center">Available Now</span></div>
<div class="ai"><span class="ail"><span class="fx" style="transform:scaleX(1.0750);transform-origin:left center">AI Match Score</span></span><span class="aiv"><span class="fx" style="transform:scaleX(1.1829);transform-origin:right center">78%</span></span><div class="bar"><div style="width:78%"></div></div></div>
<div class="btn inv"><span class="fx" style="transform:scaleX(1.2192);transform-origin:center center">Invite</span></div>
<div class="btn msg"><svg class="ic" width="40" height="40" viewBox="0 0 24 24" fill="none" stroke="#334155" stroke-width="2" stroke-linecap="round" stroke-linejoin="round" style=""><path d="M8 10h.01M12 10h.01M16 10h.01M9 16H5a2 2 0 01-2-2V6a2 2 0 012-2h14a2 2 0 012 2v8a2 2 0 01-2 2h-5l-5 5v-5z"/></svg></div>
<div class="btn cht"><svg class="ic" width="40" height="40" viewBox="0 0 24 24" fill="none" stroke="#c2410c" stroke-width="2" stroke-linecap="round" stroke-linejoin="round" style=""><path d="M9 19v-6a2 2 0 00-2-2H5a2 2 0 00-2 2v6a2 2 0 002 2h2a2 2 0 002-2zm0 0V9a2 2 0 012-2h2a2 2 0 012 2v10m-6 0a2 2 0 002 2h2a2 2 0 002-2m0 0V5a2 2 0 012-2h2a2 2 0 012 2v14a2 2 0 01-2 2h-2a2 2 0 01-2-2z"/></svg></div>
</div>
<div class="card" style="left:2192px;top:1772px">
<div class="cb"></div>
<svg class="ic" width="48" height="48" viewBox="0 0 24 24" fill="none" stroke="#94a3b8" stroke-width="2" stroke-linecap="round" stroke-linejoin="round" style="position:absolute;right:40px;top:40px"><path d="M4.318 6.318a4.5 4.5 0 000 6.364L12 20.364l7.682-7.682a4.5 4.5 0 00-6.364-6.364L12 7.636l-1.318-1.318a4.5 4.5 0 00-6.364 0z"/></svg>
<div class="av alt"><div class="altbox"><svg class="broken" width="11" height="11" viewBox="0 0 12 12"><rect width="12" height="12" fill="#eef2f7"/><path d="M1 11 L11 11 L11 3 Z" fill="#6aa85a"/><path d="M0 11.400 L11.400 11.400 L11.400 0" fill="none" stroke="#a3a8af" stroke-width="1.200"/></svg><span class="a1"><span class="fx" style="transform:scaleX(1.0276);transform-origin:center center">Oisin</span></span><span class="a2"><span class="fx" style="transform:scaleX(1.0500);transform-origin:center center">Hogan</span></span></div></div>
<div class="nm"><span class="fx" style="transform:scaleX(1.2062);transform-origin:center center">Oisin Hogan</span></div>
<div class="rl"><span class="fx" style="transform:scaleX(1.0028);transform-origin:center center">Registered Nurse (RN)</span></div>
<div class="sp"><span class="fx" style="transform:scaleX(1.0531);transform-origin:center center">Urology</span></div>
<div class="row" style="top:377px"><span class="l"><span class="fx" style="transform:scaleX(1.0117);transform-origin:left center">Rating:</span></span><span class="v r1"><span class="fx" style="transform:scaleX(1.2062);transform-origin:right center">4.5</span></span><svg class="st" width="36" height="36" viewBox="0 0 24 24" fill="#eab308"><path d="M10.788 3.21c.448-1.077 1.976-1.077 2.424 0l2.082 5.007 5.404.433c1.164.093 1.636 1.545.749 2.305l-4.117 3.527 1.257 5.273c.271 1.136-.964 2.033-1.96 1.425L12 18.354 7.373 21.18c-.996.608-2.231-.29-1.96-1.425l1.257-5.273-4.117-3.527c-.887-.76-.415-2.212.749-2.305l5.404-.433 2.082-5.007z"/></svg><span class="v r2"><span class="fx" style="transform:scaleX(1.0724);transform-origin:right center">(55)</span></span></div>
<div class="row" style="top:433px"><span class="l"><span class="fx" style="transform:scaleX(1.0288);transform-origin:left center">Distance:</span></span><span class="v m"><span class="fx" style="transform:scaleX(1.1505);transform-origin:right center">6.4 km</span></span></div>
<div class="row" style="top:489px"><span class="l"><span class="fx" style="transform:scaleX(1.0257);transform-origin:left center">Experience:</span></span><span class="v m"><span class="fx" style="transform:scaleX(1.0912);transform-origin:right center">4 years</span></span></div>
<div class="row" style="top:545px"><span class="l"><span class="fx" style="transform:scaleX(1.0587);transform-origin:left center">Reliability:</span></span><span class="v g"><span class="fx" style="transform:scaleX(1.2072);transform-origin:right center">93%</span></span></div>
<div class="row" style="top:601px"><span class="l"><span class="fx" style="transform:scaleX(1.0065);transform-origin:left center">Rate:</span></span><span class="v p"><span class="fx" style="transform:scaleX(1.2654);transform-origin:right center">€35-€42/hr</span></span></div>
<div class="badge"><span class="fx" style="transform:scaleX(1.0883);transform-origin:left center">Available Now</span></div>
<div class="ai"><span class="ail"><span class="fx" style="transform:scaleX(1.0750);transform-origin:left center">AI Match Score</span></span><span class="aiv"><span class="fx" style="transform:scaleX(1.1829);transform-origin:right center">79%</span></span><div class="bar"><div style="width:79%"></div></div></div>
<div class="btn inv"><span class="fx" style="transform:scaleX(1.2192);transform-origin:center center">Invite</span></div>
<div class="btn msg"><svg class="ic" width="40" height="40" viewBox="0 0 24 24" fill="none" stroke="#334155" stroke-width="2" stroke-linecap="round" stroke-linejoin="round" style=""><path d="M8 10h.01M12 10h.01M16 10h.01M9 16H5a2 2 0 01-2-2V6a2 2 0 012-2h14a2 2 0 012 2v8a2 2 0 01-2 2h-5l-5 5v-5z"/></svg></div>
<div class="btn cht"><svg class="ic" width="40" height="40" viewBox="0 0 24 24" fill="none" stroke="#c2410c" stroke-width="2" stroke-linecap="round" stroke-linejoin="round" style=""><path d="M9 19v-6a2 2 0 00-2-2H5a2 2 0 00-2 2v6a2 2 0 002 2h2a2 2 0 002-2zm0 0V9a2 2 0 012-2h2a2 2 0 012 2v10m-6 0a2 2 0 002 2h2a2 2 0 002-2m0 0V5a2 2 0 012-2h2a2 2 0 012 2v14a2 2 0 01-2 2h-2a2 2 0 01-2-2z"/></svg></div>
</div>
<div class="card" style="left:3008px;top:1772px">
<div class="cb"></div>
<svg class="ic" width="48" height="48" viewBox="0 0 24 24" fill="none" stroke="#94a3b8" stroke-width="2" stroke-linecap="round" stroke-linejoin="round" style="position:absolute;right:40px;top:40px"><path d="M4.318 6.318a4.5 4.5 0 000 6.364L12 20.364l7.682-7.682a4.5 4.5 0 00-6.364-6.364L12 7.636l-1.318-1.318a4.5 4.5 0 00-6.364 0z"/></svg>
<div class="av alt"><div class="altbox"><svg class="broken" width="11" height="11" viewBox="0 0 12 12"><rect width="12" height="12" fill="#eef2f7"/><path d="M1 11 L11 11 L11 3 Z" fill="#6aa85a"/><path d="M0 11.400 L11.400 11.400 L11.400 0" fill="none" stroke="#a3a8af" stroke-width="1.200"/></svg><span class="a1"><span class="fx" style="transform:scaleX(1.0620);transform-origin:center center">Cathal</span></span><span class="a2"><span class="fx" style="transform:scaleX(1.0620);transform-origin:center center">Moran</span></span></div></div>
<div class="nm"><span class="fx" style="transform:scaleX(1.2250);transform-origin:center center">Cathal Moran</span></div>
<div class="rl"><span class="fx" style="transform:scaleX(1.0028);transform-origin:center center">Registered Nurse (RN)</span></div>
<div class="sp"><span class="fx" style="transform:scaleX(1.0575);transform-origin:center center">Gastroenterology</span></div>
<div class="row" style="top:377px"><span class="l"><span class="fx" style="transform:scaleX(1.0117);transform-origin:left center">Rating:</span></span><span class="v r1"><span class="fx" style="transform:scaleX(1.2062);transform-origin:right center">4.5</span></span><svg class="st" width="36" height="36" viewBox="0 0 24 24" fill="#eab308"><path d="M10.788 3.21c.448-1.077 1.976-1.077 2.424 0l2.082 5.007 5.404.433c1.164.093 1.636 1.545.749 2.305l-4.117 3.527 1.257 5.273c.271 1.136-.964 2.033-1.96 1.425L12 18.354 7.373 21.18c-.996.608-2.231-.29-1.96-1.425l1.257-5.273-4.117-3.527c-.887-.76-.415-2.212.749-2.305l5.404-.433 2.082-5.007z"/></svg><span class="v r2"><span class="fx" style="transform:scaleX(1.0724);transform-origin:right center">(61)</span></span></div>
<div class="row" style="top:433px"><span class="l"><span class="fx" style="transform:scaleX(1.0288);transform-origin:left center">Distance:</span></span><span class="v m"><span class="fx" style="transform:scaleX(1.1505);transform-origin:right center">13.3 km</span></span></div>
<div class="row" style="top:489px"><span class="l"><span class="fx" style="transform:scaleX(1.0257);transform-origin:left center">Experience:</span></span><span class="v m"><span class="fx" style="transform:scaleX(1.0912);transform-origin:right center">5 years</span></span></div>
<div class="row" style="top:545px"><span class="l"><span class="fx" style="transform:scaleX(1.0587);transform-origin:left center">Reliability:</span></span><span class="v g"><span class="fx" style="transform:scaleX(1.2072);transform-origin:right center">94%</span></span></div>
<div class="row" style="top:601px"><span class="l"><span class="fx" style="transform:scaleX(1.0065);transform-origin:left center">Rate:</span></span><span class="v p"><span class="fx" style="transform:scaleX(1.2654);transform-origin:right center">€36-€43/hr</span></span></div>
<div class="badge"><span class="fx" style="transform:scaleX(1.0883);transform-origin:left center">Available Now</span></div>
<div class="ai"><span class="ail"><span class="fx" style="transform:scaleX(1.0750);transform-origin:left center">AI Match Score</span></span><span class="aiv"><span class="fx" style="transform:scaleX(1.1829);transform-origin:right center">80%</span></span><div class="bar"><div style="width:80%"></div></div></div>
<div class="btn inv"><span class="fx" style="transform:scaleX(1.2192);transform-origin:center center">Invite</span></div>
<div class="btn msg"><svg class="ic" width="40" height="40" viewBox="0 0 24 24" fill="none" stroke="#334155" stroke-width="2" stroke-linecap="round" stroke-linejoin="round" style=""><path d="M8 10h.01M12 10h.01M16 10h.01M9 16H5a2 2 0 01-2-2V6a2 2 0 012-2h14a2 2 0 012 2v8a2 2 0 01-2 2h-5l-5 5v-5z"/></svg></div>
<div class="btn cht"><svg class="ic" width="40" height="40" viewBox="0 0 24 24" fill="none" stroke="#c2410c" stroke-width="2" stroke-linecap="round" stroke-linejoin="round" style=""><path d="M9 19v-6a2 2 0 00-2-2H5a2 2 0 00-2 2v6a2 2 0 002 2h2a2 2 0 002-2zm0 0V9a2 2 0 012-2h2a2 2 0 012 2v10m-6 0a2 2 0 002 2h2a2 2 0 002-2m0 0V5a2 2 0 012-2h2a2 2 0 012 2v14a2 2 0 01-2 2h-2a2 2 0 01-2-2z"/></svg></div>
</div>
</div>
</body></html>
